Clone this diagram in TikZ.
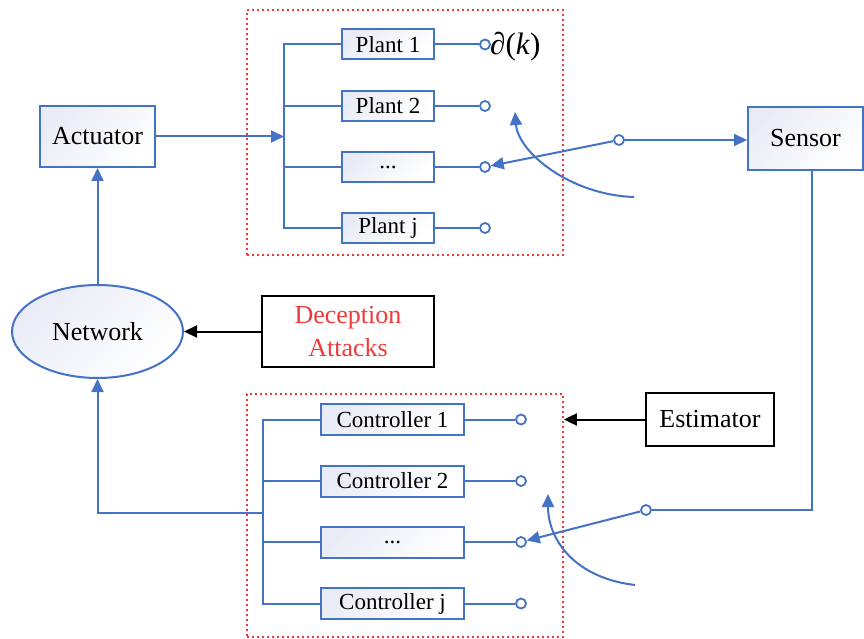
\documentclass[tikz,border=0pt]{standalone}
\usepackage{fontspec}
\setmainfont{Liberation Serif}
\usetikzlibrary{arrows.meta,shapes.geometric}
\definecolor{bl}{HTML}{4472C4}
\definecolor{rd}{HTML}{F03A3A}
\definecolor{bf}{HTML}{E9ECF6}
\begin{document}
\begin{tikzpicture}[x=1pt,y=-1pt,
  blk/.style={draw=bl, line width=2pt, top color=bf, bottom color=white, shading angle=45, inner sep=0pt, font=\fontsize{26}{30}\selectfont},
  plantbox/.style={blk, minimum width=92pt, minimum height=30pt, font=\fontsize{23}{26}\selectfont},
  ctrlbox/.style={blk, minimum width=143pt, minimum height=31pt, font=\fontsize{23}{26}\selectfont},
  blackbox/.style={draw=black, line width=2pt, fill=white, inner sep=0pt, font=\fontsize{26}{33}\selectfont},
  grp/.style={draw=rd, line width=1.8pt, dash pattern=on 2pt off 3pt, inner sep=0pt},
  port/.style={circle, draw=bl, line width=1.8pt, fill=white, minimum size=10pt, inner sep=0pt},
  conn/.style={draw=bl, line width=2pt},
  arr/.style={conn, -{Triangle[length=13pt,width=12pt]}},
  karr/.style={draw=black, line width=2pt, -{Triangle[length=13pt,width=12pt]}}
]
\useasboundingbox (0,0) rectangle (864,639);

% groups
\node[grp, minimum width=316pt, minimum height=245pt] (grpP) at (405,132.5) {};
\node[grp, minimum width=316pt, minimum height=243pt] (grpC) at (405,515.5) {};

% main blocks
\node[blk, minimum width=115pt, minimum height=61pt] (act) at (97.5,136.5) {Actuator};
\node[blk, minimum width=115pt, minimum height=63pt] (sen) at (805.5,138.5) {Sensor};
\node[blk, ellipse, minimum width=171pt, minimum height=93pt] (net) at (97.5,331.5) {Network};
\node[blackbox, minimum width=172pt, minimum height=71pt, align=center, text=rd] (dec) at (348,331.5) {Deception\\Attacks};
\node[blackbox, minimum width=128pt, minimum height=53pt] (est) at (710,419.5) {Estimator};

% plants
\node[plantbox] (p1) at (388,44.5) {Plant 1};
\node[plantbox] (p2) at (388,106) {Plant 2};
\node[plantbox] (p3) at (388,167) {...};
\node[plantbox] (p4) at (388,228) {Plant j};
\node[port] (pp1) at (485,44.5) {};
\node[port] (pp2) at (485,106) {};
\node[port] (pp3) at (485,167) {};
\node[port] (pp4) at (485,228) {};
\node[anchor=west, inner sep=0pt, font=\fontsize{31}{34}\selectfont] (dk) at (490,47) {∂(\textit{k})};

% controllers
\node[ctrlbox] (c1) at (392.5,419.5) {Controller 1};
\node[ctrlbox] (c2) at (392.5,481) {Controller 2};
\node[ctrlbox] (c3) at (392.5,542) {...};
\node[ctrlbox] (c4) at (392.5,603.5) {Controller j};
\node[port] (cp1) at (521,419.5) {};
\node[port] (cp2) at (521,481) {};
\node[port] (cp3) at (521,542) {};
\node[port] (cp4) at (521,603.5) {};

% switches
\node[port] (sw1) at (619,140) {};
\node[port] (sw2) at (646,510) {};

% bus coordinates
\coordinate (busP) at (284,136.5);
\coordinate (busC) at (263,513);
\coordinate (sd) at (812,170);

% plant bus
\draw[conn] (p1.west) -- (p1.west -| busP) -- (p4.west -| busP) -- (p4.west);
\draw[conn] (p2.west) -- (p2.west -| busP);
\draw[conn] (p3.west) -- (p3.west -| busP);
\draw[conn] (p1.east) -- (pp1);
\draw[conn] (p2.east) -- (pp2);
\draw[conn] (p3.east) -- (pp3);
\draw[conn] (p4.east) -- (pp4);
\draw[arr] (act.east) -- (busP);

% controller bus
\draw[conn] (c1.west) -- (c1.west -| busC) -- (c4.west -| busC) -- (c4.west);
\draw[conn] (c2.west) -- (c2.west -| busC);
\draw[conn] (c3.west) -- (c3.west -| busC);
\draw[conn] (c1.east) -- (cp1);
\draw[conn] (c2.east) -- (cp2);
\draw[conn] (c3.east) -- (cp3);
\draw[conn] (c4.east) -- (cp4);
\draw[arr] (busC) -| (net.south);

% network/actuator
\draw[arr] (net.north) -- (act.south);
\draw[karr] (dec.west) -- (net.east);
\draw[karr] (est.west) -- (est.west -| grpC.east);

% sensor paths
\draw[arr] (sw1) -- (sw1 -| sen.west);
\draw[arr] (sw1) -- (pp3);
\draw[conn] (sd) |- (sw2);
\draw[arr] (sw2) -- (cp3);

% switching curves
\coordinate (cuA) at (634,197);
\coordinate (cuB) at (515,112);
\draw[arr] (cuA) .. controls (570,195) and (518,152) .. (cuB);
\coordinate (cuC) at (635,585);
\coordinate (cuD) at (548,494);
\draw[arr] (cuC) .. controls (575,578) and (548,540) .. (cuD);
\end{tikzpicture}
\end{document}
